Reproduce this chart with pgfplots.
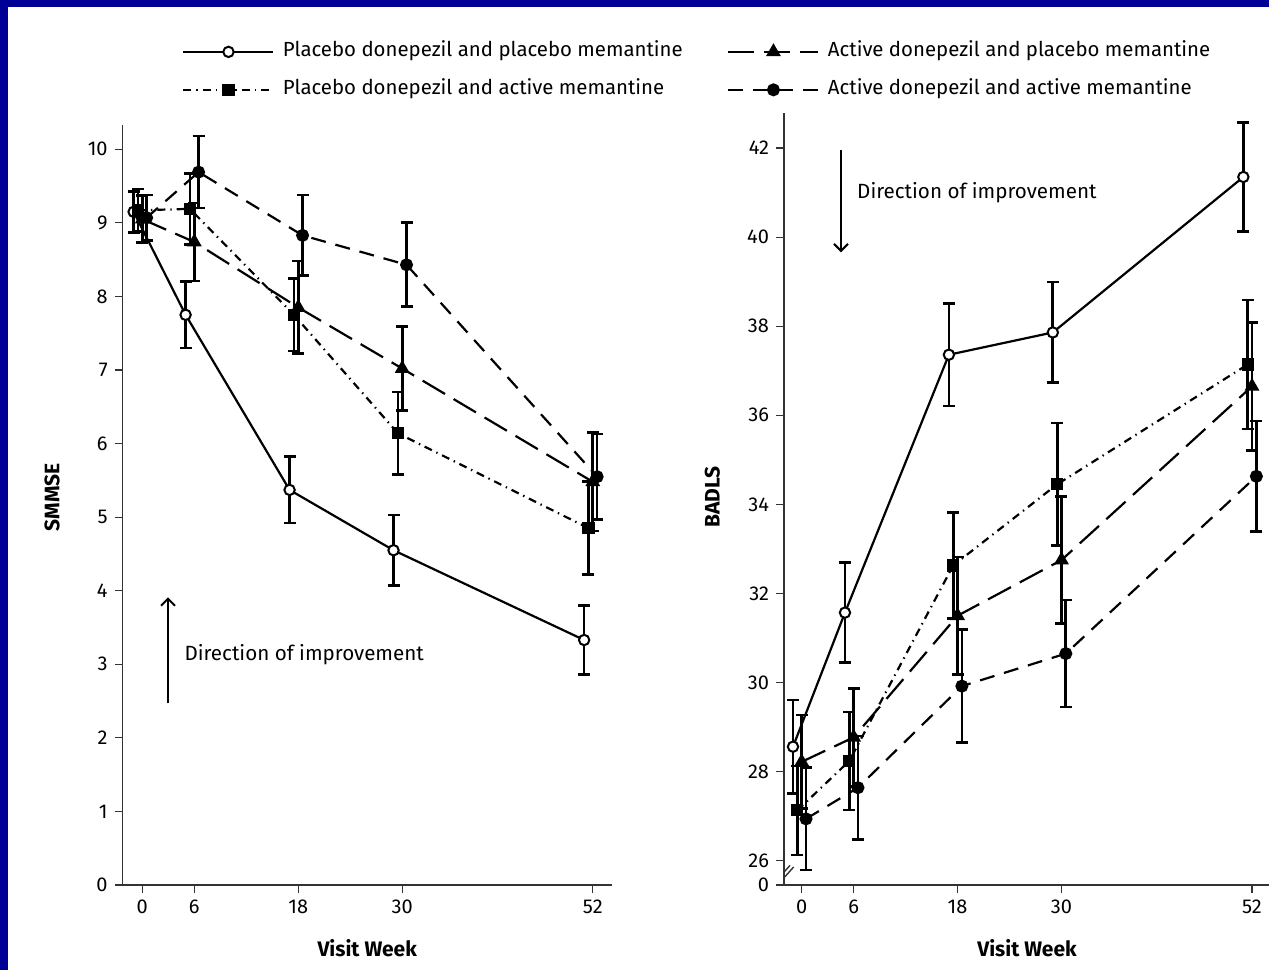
\documentclass[border=0pt]{standalone}
\usepackage{pgfplots}
\pgfplotsset{compat=1.18}
\usepackage{fontspec}
\setmainfont{Fira Sans}
\usetikzlibrary{arrows.meta}
\definecolor{frameblue}{RGB}{0,0,150}

\pgfplotsset{
  common/.style={
    scale only axis, anchor=south west,
    axis x line*=bottom, axis y line*=left,
    axis line style={-, black!80, line width=0.7pt},
    tick align=outside, major tick length=4pt,
    tick style={black!80, line width=0.6pt},
    xtick={0,6,18,30,52},
    /pgf/number format/assume math mode=true,
    ticklabel style={font=\fontsize{10}{12}\selectfont},
    label style={font=\fontsize{10.5}{12}\selectfont\bfseries},
    xlabel={Visit Week},
    legend cell align=left,
    legend style={draw=none, fill=none, anchor=north west,
      font=\fontsize{10.2}{12}\selectfont, row sep=6pt,
      nodes={inner sep=2pt, text height=7pt, text depth=2pt},
      /tikz/every odd column/.append style={column sep=2.2pt}},
    legend image code/.code={
      \draw[mark repeat=2, mark phase=2, ##1] plot coordinates {(0pt,0pt) (22.5pt,0pt) (45pt,0pt)};
    },
  },
  serA/.style={black, line width=1.1pt, solid, mark=*, mark size=2.6pt, mark options={solid, fill=white, line width=1pt}},
  serB/.style={black, line width=1.1pt, dash pattern=on 13pt off 5pt, mark=triangle*, mark size=3.2pt, mark options={solid}},
  serC/.style={black, line width=1.1pt, dash pattern=on 4pt off 2.5pt on 0.7pt off 2.5pt, mark=square*, mark size=2.5pt, mark options={solid}},
  serD/.style={black, line width=1.1pt, dash pattern=on 7.5pt off 5pt, mark=*, mark size=2.7pt, mark options={solid}},
  eb/.style={error bars/.cd, y dir=both, y explicit,
    error bar style={line width=1.35pt, solid, black},
    error mark options={rotate=90, mark size=3pt, line width=1.35pt, solid, black}},
}

\begin{document}
\begin{tikzpicture}
\path[use as bounding box] (0,0) rectangle (634.5pt,485pt);
\fill[frameblue] (0,481.5pt) rectangle (634.5pt,485pt);
\fill[frameblue] (0,0) rectangle (4pt,485pt);

% SMMSE
\begin{axis}[common,
  at={(61.35pt,42.5pt)}, width=244.5pt, height=380pt,
  xmin=-2.26, xmax=54.18, ymin=0, ymax=10.33,
  ytick={0,1,...,10},
  ylabel={SMMSE},
  ylabel style={at={(axis description cs:-0.1446,0.51)}, anchor=center},
  xlabel style={at={(axis description cs:0.5,-0.083)}, anchor=center},
  legend style={at={(axis description cs:0.109,1.1191)}},
]
\addplot[serA, eb] coordinates {(-1,9.15) +- (0,0.28) (5,7.75) +- (0,0.45) (17,5.37) +- (0,0.45) (29,4.55) +- (0,0.48) (51,3.33) +- (0,0.47)};
\addlegendentry{Placebo donepezil and placebo memantine}
\addplot[serB, forget plot, eb] coordinates {(0,9.05) +- (0,0.32) (6,8.74) +- (0,0.53) (18,7.85) +- (0,0.63) (30,7.02) +- (0,0.57) (52,5.48) +- (0,0.67)};
\addplot[serC, eb] coordinates {(-0.5,9.17) +- (0,0.29) (5.5,9.19) +- (0,0.48) (17.5,7.75) +- (0,0.49) (29.5,6.14) +- (0,0.56) (51.5,4.85) +- (0,0.63)};
\addlegendentry{Placebo donepezil and active memantine}
\addplot[serD, forget plot, eb] coordinates {(0.5,9.07) +- (0,0.31) (6.5,9.69) +- (0,0.49) (18.5,8.83) +- (0,0.55) (30.5,8.43) +- (0,0.57) (52.5,5.55) +- (0,0.58)};
\draw[line width=1pt, -{Straight Barb[length=3.5pt,width=7pt]}] (axis cs:2.97,2.47) -- (axis cs:2.97,3.91);
\node[anchor=west, inner sep=0pt, font=\fontsize{10.3}{12}\selectfont] at (axis cs:4.83,3.13) {Direction of improvement};
\end{axis}

% BADLS
\begin{axis}[common,
  at={(392pt,42.5pt)}, width=242.5pt, height=385.85pt,
  xmin=-2.04, xmax=53.96, ymin=25.455, ymax=42.78,
  ytick={26,28,...,42},
  extra y ticks={25.455}, extra y tick labels={0},
  ylabel={BADLS},
  ylabel style={at={(axis description cs:-0.148,0.503)}, anchor=center},
  xlabel style={at={(axis description cs:0.501,-0.0816)}, anchor=center},
  legend style={at={(axis description cs:-0.130,1.1022)}},
]
\addplot[serA, forget plot, eb] coordinates {(-1,28.56) +- (0,1.05) (5,31.57) +- (0,1.12) (17,37.36) +- (0,1.15) (29,37.86) +- (0,1.13) (51,41.35) +- (0,1.22)};
\addplot[serB, eb] coordinates {(0,28.22) +- (0,1.05) (6,28.77) +- (0,1.1) (18,31.5) +- (0,1.32) (30,32.75) +- (0,1.42) (52,36.65) +- (0,1.44)};
\addlegendentry{Active donepezil and placebo memantine}
\addplot[serC, forget plot, eb] coordinates {(-0.5,27.13) +- (0,1.0) (5.5,28.24) +- (0,1.1) (17.5,32.63) +- (0,1.19) (29.5,34.45) +- (0,1.38) (51.5,37.14) +- (0,1.45)};
\addplot[serD, eb] coordinates {(0.5,26.94) +- (0,1.15) (6.5,27.64) +- (0,1.16) (18.5,29.92) +- (0,1.27) (30.5,30.65) +- (0,1.2) (52.5,34.63) +- (0,1.24)};
\addlegendentry{Active donepezil and active memantine}
\draw[line width=1pt, -{Straight Barb[length=3.5pt,width=7pt]}] (axis cs:4.54,41.95) -- (axis cs:4.54,39.66);
\node[anchor=west, inner sep=0pt, font=\fontsize{10.3}{12}\selectfont] at (axis cs:6.37,40.99) {Direction of improvement};
\draw[black!80, line width=0.7pt] ([xshift=-5pt,yshift=0.8pt]rel axis cs:0,0) -- ++(8pt,9pt);
\draw[black!80, line width=0.7pt] ([xshift=-3.2pt,yshift=0pt]rel axis cs:0,0) -- ++(8pt,9pt);
\end{axis}
\end{tikzpicture}
\end{document}
